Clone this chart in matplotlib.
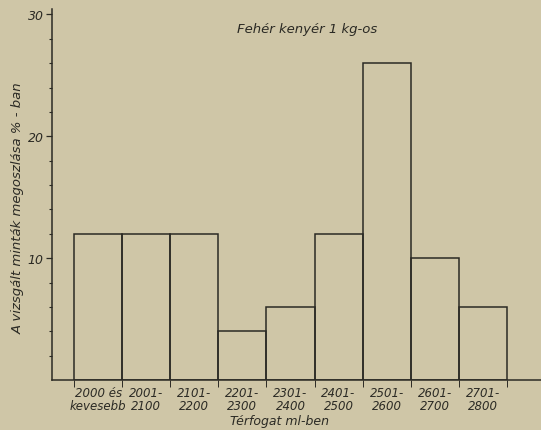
import matplotlib
matplotlib.use("Agg")
import matplotlib.pyplot as plt
import numpy as np

categories = ["2000 és\nkevesebb", "2001-\n2100", "2101-\n2200", "2201-\n2300",
              "2301-\n2400", "2401-\n2500", "2501-\n2600", "2601-\n2700", "2701-\n2800"]
values = [12, 12, 12, 4, 6, 12, 26, 10, 6]
y_major = [10, 20, 30]
title = "Fehér kenyér 1 kg-os"
ylabel = "A vizsgált minták megoszlása % - ban"
xlabel = "Térfogat ml-ben"

bg = "#cfc6a7"
ink = "#2b2a24"

plt.rcParams['font.family'] = ['DejaVu Sans']
fig = plt.figure(figsize=(5.41, 4.31), dpi=100, facecolor=bg)
ax = fig.add_axes([52/541, 50/431, (541-52)/541, (381-10)/431])
ax.set_facecolor(bg)

x = np.arange(len(values))
ax.bar(x, values, width=1.0, align='edge', facecolor='none', edgecolor=ink, linewidth=1.1)

ax.set_xlim(-0.46, 9.71)
ax.set_ylim(0, 30.45)
for s in ['top', 'right']:
    ax.spines[s].set_visible(False)
for s in ['left', 'bottom']:
    ax.spines[s].set_color(ink)
    ax.spines[s].set_linewidth(1.1)

ax.set_yticks(y_major)
ax.set_yticklabels([str(v) for v in y_major], fontsize=9, style='italic', color=ink)
ax.set_yticks(np.arange(2, 30, 2), minor=True)
ax.tick_params(axis='y', which='major', length=4, width=0.9, color=ink, pad=2)
ax.tick_params(axis='y', which='minor', length=2.5, width=0.8, color=ink)

ax.set_xticks(np.arange(0, 10))
ax.set_xticklabels([])
ax.tick_params(axis='x', which='major', length=5, width=0.7, color=ink)
ax.set_xticks(x + 0.5, minor=True)
ax.set_xticklabels(categories, minor=True, fontsize=8.5, style='italic', color=ink,
                   linespacing=1.0)
ax.tick_params(axis='x', which='minor', length=0, pad=4)

fig.text(307/541, 1 - 30/431, title, ha='center', va='center', fontsize=9.5,
         style='italic', color=ink)
fig.text(18/541, 1 - 208/431, ylabel, ha='center', va='center', rotation=90,
         fontsize=9.5, style='italic', color=ink)
fig.text(280/541, 1 - 422/431, xlabel, ha='center', va='center', fontsize=9,
         style='italic', color=ink)

fig.savefig("out.png", dpi=100, facecolor=bg)
